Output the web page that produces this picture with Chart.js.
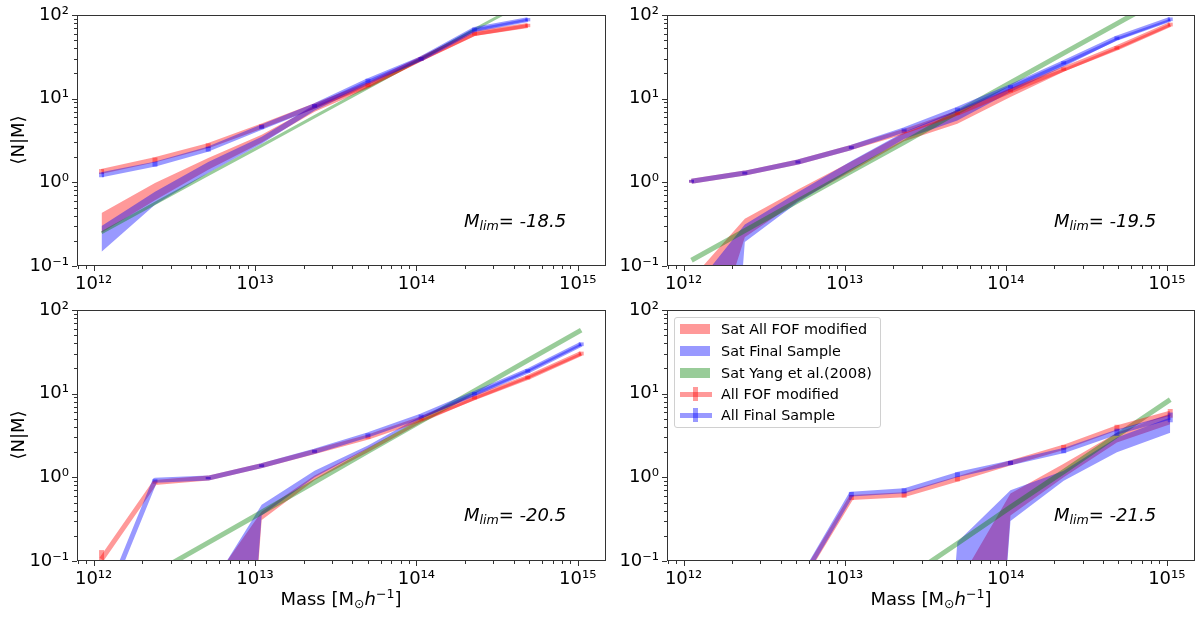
<!DOCTYPE html>
<html>
<head>
<meta charset="utf-8">
<script src="https://cdn.jsdelivr.net/npm/chart.js@4.4.1/dist/chart.umd.min.js"></script>
<style>
  body { margin: 0; background: #fff; font-family: "DejaVu Sans", sans-serif; }
  #fig { position: relative; width: 1200px; height: 617px; overflow: hidden; }
  canvas { position: absolute; }
  .ylab { position: absolute; font-size: 18px; white-space: nowrap; transform: translate(-50%, -50%) rotate(-90deg); }
  .xlab { position: absolute; font-size: 18px; white-space: nowrap; transform: translate(-50%, -50%); }
  .xlab sub { font-size: 70%; vertical-align: -0.25em; line-height: 0; }
  .xlab sup { font-size: 70%; vertical-align: 0.55em; line-height: 0; }
  .mlim { position: absolute; font-size: 18px; font-style: italic; white-space: nowrap; transform: translateY(-50%); }
  .mlim sub { font-size: 70%; vertical-align: -0.3em; line-height: 0; }
  #legend { position: absolute; left: 674px; top: 317px; width: 207px; height: 111px; box-sizing: border-box;
            border: 1px solid #d0d0d0; border-radius: 3px; background: rgba(255,255,255,0.8); font-size: 14.4px; }
  .row { position: absolute; left: 0; height: 20px; width: 100%; }
  .row span { position: absolute; left: 46px; top: 50%; transform: translateY(-50%); white-space: nowrap; }
  .patch { position: absolute; left: 5px; width: 30px; height: 10px; top: 5px; }
  .ln { position: absolute; left: 5px; width: 32px; height: 5px; top: 7.5px; }
  .eb { position: absolute; left: 18px; width: 5px; height: 14px; top: 3px; }
</style>
</head>
<body>
<div id="fig">
  <canvas id="c0" width="615" height="300" style="left:0px;top:0px"></canvas>
  <canvas id="c1" width="594" height="300" style="left:606px;top:0px"></canvas>
  <canvas id="c2" width="615" height="321" style="left:0px;top:296px"></canvas>
  <canvas id="c3" width="594" height="321" style="left:606px;top:296px"></canvas>

  <div class="ylab" style="left:17px;top:140px">⟨N|M⟩</div>
  <div class="ylab" style="left:17px;top:435px">⟨N|M⟩</div>
  <div class="xlab" style="left:341px;top:598px">Mass [M<sub>⊙</sub><i>h</i><sup>−1</sup>]</div>
  <div class="xlab" style="left:931px;top:598px">Mass [M<sub>⊙</sub><i>h</i><sup>−1</sup>]</div>

  <div class="mlim" style="left:464px;top:220px">M<sub>lim</sub>= -18.5</div>
  <div class="mlim" style="left:1054px;top:220px">M<sub>lim</sub>= -19.5</div>
  <div class="mlim" style="left:464px;top:514px">M<sub>lim</sub>= -20.5</div>
  <div class="mlim" style="left:1054px;top:514px">M<sub>lim</sub>= -21.5</div>

  <div id="legend">
    <div class="row" style="top:1px"><div class="patch" style="background:rgba(255,0,0,0.4)"></div><span>Sat All FOF modified</span></div>
    <div class="row" style="top:23px"><div class="patch" style="background:rgba(0,0,255,0.4)"></div><span>Sat Final Sample</span></div>
    <div class="row" style="top:45px"><div class="patch" style="background:rgba(0,128,0,0.4)"></div><span>Sat Yang et al.(2008)</span></div>
    <div class="row" style="top:66px"><div class="ln" style="background:rgba(255,0,0,0.4)"></div><div class="eb" style="background:rgba(255,0,0,0.4)"></div><span>All FOF modified</span></div>
    <div class="row" style="top:87px"><div class="ln" style="background:rgba(0,0,255,0.4)"></div><div class="eb" style="background:rgba(0,0,255,0.4)"></div><span>All Final Sample</span></div>
  </div>
</div>

<script>
// halo mass bins (shared by all panels)
const massBins = [1.12e12, 2.40e12, 5.13e12, 1.10e13, 2.34e13, 5.01e13, 1.07e14, 2.29e14, 4.90e14, 1.05e15];
const xRange = [7.89e11, 1.496e15];
const yRange = [0.1, 100];
const xLabelTicks = [1e12, 1e13, 1e14, 1e15];
const yLabelTicks = [0.1, 1, 10, 100];

// M_lim = -18.5
const tlSatFofLo   = [0.25, 0.61, 1.41, 3.0, 7.0, 13.2, 28, 56, 71];
const tlSatFofHi   = [0.43, 0.98, 1.95, 3.7, 8.2, 15.1, 31, 62, 78];
const tlSatFinalLo = [0.148, 0.54, 1.29, 2.9, 7.2, 14.6, 28.5, 64, 85];
const tlSatFinalHi = [0.30, 0.77, 1.75, 3.5, 8.5, 16.7, 31.5, 69, 91];
const tlYang       = [0.25, 0.56, 1.24, 2.75, 6.1, 13.5, 30, 67, 148, 330];
const tlAllFof     = [1.35, 1.86, 2.75, 4.7, 8.2, 14.6, 30, 60, 75];
const tlAllFinal   = [1.23, 1.65, 2.5, 4.57, 8.2, 16.4, 30, 67, 88];
const tlErrFof     = [0.09, 0.12, 0.18, 0.25, 0.4, 0.8, 1.5, 3, 3.5];
const tlErrFinal   = [0.08, 0.11, 0.17, 0.25, 0.4, 0.9, 1.5, 3.5, 4];

// M_lim = -19.5
const trSatFofLo   = [0.0022, 0.22, 0.6, 1.35, 3.1, 5.0, 10.5, 21, 38.5, 73];
const trSatFofHi   = [0.07, 0.367, 0.82, 1.78, 3.9, 6.8, 13.2, 23, 41.5, 79];
const trSatFinalLo = [1e-9, 0.193, 0.58, 1.4, 3.3, 5.5, 12, 24, 50, 85];
const trSatFinalHi = [0.05, 0.314, 0.76, 1.8, 4.0, 7.3, 14.4, 27.5, 54, 90];
const trYang       = [0.117, 0.265, 0.60, 1.35, 3.0, 6.9, 15.5, 35, 79, 178];
const trAllFof     = [1.03, 1.29, 1.75, 2.61, 4.05, 6.7, 12.4, 22.6, 40.5, 77];
const trAllFinal   = [1.03, 1.29, 1.75, 2.61, 4.24, 7.46, 13.9, 26.9, 53, 89];
const trErrFof     = [0.04, 0.05, 0.07, 0.1, 0.16, 0.3, 0.5, 1, 2, 4];
const trErrFinal   = [0.04, 0.05, 0.07, 0.1, 0.17, 0.35, 0.6, 1.2, 2.5, 4.5];

// M_lim = -20.5
const blSatFofLo   = [1e-9, 1e-9, 1e-9, 0.31, 0.92, 2.0, 4.5, 8.4, 15, 28.5];
const blSatFofHi   = [1e-9, 1e-9, 0.048, 0.39, 1.05, 2.25, 4.9, 9.2, 16.2, 31];
const blSatFinalLo = [1e-9, 1e-9, 1e-9, 0.35, 1.0, 2.2, 5.0, 9.5, 18, 37.5];
const blSatFinalHi = [1e-9, 1e-9, 0.044, 0.47, 1.2, 2.4, 5.4, 10.3, 19.3, 40];
const blYang       = [0.031, 0.072, 0.166, 0.383, 0.88, 2.04, 4.7, 10.8, 25, 57.5];
const blAllFof     = [0.105, 0.87, 0.98, 1.38, 2.03, 3.02, 5.0, 8.95, 15.6, 30.2];
const blAllFinal   = [0.025, 0.92, 0.98, 1.38, 2.05, 3.22, 5.4, 10, 18.7, 39];
const blErrFof     = [0.03, 0.03, 0.03, 0.05, 0.08, 0.13, 0.2, 0.4, 0.8, 1.6];
const blErrFinal   = [0.004, 0.03, 0.03, 0.05, 0.08, 0.14, 0.22, 0.45, 0.9, 2];

// M_lim = -21.5
const brSatFofLo   = [1e-9, 1e-9, 1e-9, 1e-9, 1e-9, 1e-9, 0.35, 1.0, 2.6, 4.3];
const brSatFofHi   = [1e-9, 1e-9, 1e-9, 1e-9, 1e-9, 0.052, 0.64, 1.45, 3.4, 5.8];
const brSatFinalLo = [1e-9, 1e-9, 1e-9, 1e-9, 1e-9, 1e-9, 0.3, 0.91, 2.0, 3.4];
const brSatFinalHi = [1e-9, 1e-9, 1e-9, 1e-9, 1e-9, 0.169, 0.70, 1.2, 3.0, 5.2];
const brYang       = [0.0012, 0.0031, 0.0083, 0.022, 0.06, 0.162, 0.44, 1.17, 3.16, 8.5];
const brAllFof     = [null, null, 0.051, 0.575, 0.62, 0.955, 1.49, 2.29, 3.9, 5.86];
const brAllFinal   = [null, null, 0.051, 0.63, 0.69, 1.08, 1.49, 2.09, 3.47, 5.25];
const brErrFof     = [null, null, 0.004, 0.04, 0.05, 0.06, 0.08, 0.15, 0.35, 0.7];
const brErrFinal   = [null, null, 0.004, 0.04, 0.05, 0.07, 0.08, 0.15, 0.35, 0.7];

const RED = 'rgba(255,0,0,0.4)';
const BLUE = 'rgba(0,0,255,0.4)';
const GREEN = 'rgba(0,128,0,0.4)';
const SUP = {'0':'⁰','1':'¹','2':'²','3':'³','4':'⁴','5':'⁵','6':'⁶','7':'⁷','8':'⁸','9':'⁹','-':'⁻'};

function pow10Label(v, list) {
    const hit = list.find(t => Math.abs(Math.log10(v) - Math.log10(t)) < 1e-6);
    if (!hit) return '';
    const e = Math.round(Math.log10(hit));
    return '10' + String(e).split('').map(c => SUP[c]).join('');
}

// ticks at 1..9 x 10^n, like matplotlib's log locator
function logTicks(min, max) {
    const out = [];
    for (let e = Math.floor(Math.log10(min)); e <= Math.ceil(Math.log10(max)); e++) {
        for (let m = 1; m <= 9; m++) {
            const v = m * Math.pow(10, e);
            if (v >= min * 0.999999 && v <= max * 1.000001) out.push({value: v, major: m === 1});
        }
    }
    return out;
}

const errorBars = {
    id: 'errorBars',
    afterDatasetDraw(chart, args) {
        const ds = chart.data.datasets[args.index];
        if (!ds.errors) return;
        const {ctx, chartArea: a, scales: {x, y}} = chart;
        ctx.save();
        ctx.beginPath();
        ctx.rect(a.left, a.top, a.right - a.left, a.bottom - a.top);
        ctx.clip();
        ctx.strokeStyle = ds.borderColor;
        ctx.lineWidth = ds.borderWidth;
        ctx.lineCap = 'butt';
        ds.data.forEach((p, i) => {
            const e = ds.errors[i];
            if (p.y == null || e == null) return;
            const px = x.getPixelForValue(p.x);
            ctx.beginPath();
            ctx.moveTo(px, y.getPixelForValue(Math.max(p.y - e, 1e-6)));
            ctx.lineTo(px, y.getPixelForValue(p.y + e));
            ctx.stroke();
        });
        ctx.restore();
    }
};

const frame = {
    id: 'frame',
    afterDraw(chart) {
        const {ctx, chartArea: a, scales: {x, y}} = chart;
        ctx.save();
        ctx.strokeStyle = '#333';
        ctx.lineWidth = 1;
        ctx.beginPath();
        x.ticks.forEach(t => {
            const px = Math.round(x.getPixelForValue(t.value)) + 0.5;
            ctx.moveTo(px, a.bottom);
            ctx.lineTo(px, a.bottom + (t.major ? 5 : 3));
        });
        y.ticks.forEach(t => {
            const py = Math.round(y.getPixelForValue(t.value)) + 0.5;
            ctx.moveTo(a.left, py);
            ctx.lineTo(a.left - (t.major ? 5 : 3), py);
        });
        ctx.stroke();
        ctx.strokeRect(a.left + 0.5, a.top + 0.5, a.right - a.left - 1, a.bottom - a.top - 1);
        ctx.restore();
    }
};

function pts(arr) {
    return arr.map((v, i) => ({x: massBins[i], y: v}));
}

function makePanel(id, box, d) {
    const canvas = document.getElementById(id);
    const W = canvas.width, H = canvas.height;
    const tickFont = {family: 'DejaVu Sans', size: 18};
    new Chart(canvas, {
        type: 'line',
        data: {
            datasets: [
                {data: pts(d.satFofHi), fill: '+1', backgroundColor: RED, borderColor: 'transparent', borderWidth: 0, order: 5},
                {data: pts(d.satFofLo), fill: false, borderColor: 'transparent', borderWidth: 0, order: 5},
                {data: pts(d.satFinalHi), fill: '+1', backgroundColor: BLUE, borderColor: 'transparent', borderWidth: 0, order: 4},
                {data: pts(d.satFinalLo), fill: false, borderColor: 'transparent', borderWidth: 0, order: 4},
                {data: pts(d.yang), fill: false, borderColor: GREEN, borderWidth: d.yangWidth, order: 3, clip: 0},
                {data: pts(d.allFof), errors: d.errFof, fill: false, borderColor: RED, borderWidth: 5, order: 2, clip: 0},
                {data: pts(d.allFinal), errors: d.errFinal, fill: false, borderColor: BLUE, borderWidth: 5, order: 1, clip: 0}
            ]
        },
        options: {
            responsive: false,
            animation: false,
            events: [],
            layout: {padding: {top: box.top, right: W - box.right, left: 0, bottom: 0}},
            elements: {
                line: {tension: 0, borderJoinStyle: 'round', borderCapStyle: 'butt'},
                point: {radius: 0}
            },
            plugins: {legend: {display: false}, tooltip: {enabled: false}},
            scales: {
                x: {
                    type: 'logarithmic',
                    min: xRange[0], max: xRange[1],
                    afterFit: s => { s.height = H - box.bottom; },
                    afterBuildTicks: s => { s.ticks = logTicks(s.min, s.max); },
                    grid: {display: false, drawTicks: true, tickLength: 5},
                    border: {display: false},
                    ticks: {autoSkip: false, maxRotation: 0, padding: 3, color: '#000', font: tickFont,
                            callback: v => pow10Label(v, xLabelTicks)}
                },
                y: {
                    type: 'logarithmic',
                    min: yRange[0], max: yRange[1],
                    afterFit: s => { s.width = box.left; },
                    afterBuildTicks: s => { s.ticks = logTicks(s.min, s.max); },
                    grid: {display: false, drawTicks: true, tickLength: 5},
                    border: {display: false},
                    ticks: {autoSkip: false, padding: 3, color: '#000', font: tickFont,
                            callback: v => pow10Label(v, yLabelTicks)}
                }
            }
        },
        plugins: [errorBars, frame]
    });
}

// chart-area edges in canvas pixels
makePanel('c0', {left: 77, top: 15, right: 606, bottom: 266}, {
    satFofLo: tlSatFofLo, satFofHi: tlSatFofHi, satFinalLo: tlSatFinalLo, satFinalHi: tlSatFinalHi,
    yang: tlYang, yangWidth: 3, allFof: tlAllFof, allFinal: tlAllFinal, errFof: tlErrFof, errFinal: tlErrFinal
});
makePanel('c1', {left: 61, top: 15, right: 589, bottom: 266}, {
    satFofLo: trSatFofLo, satFofHi: trSatFofHi, satFinalLo: trSatFinalLo, satFinalHi: trSatFinalHi,
    yang: trYang, yangWidth: 5, allFof: trAllFof, allFinal: trAllFinal, errFof: trErrFof, errFinal: trErrFinal
});
makePanel('c2', {left: 77, top: 14, right: 606, bottom: 265}, {
    satFofLo: blSatFofLo, satFofHi: blSatFofHi, satFinalLo: blSatFinalLo, satFinalHi: blSatFinalHi,
    yang: blYang, yangWidth: 5, allFof: blAllFof, allFinal: blAllFinal, errFof: blErrFof, errFinal: blErrFinal
});
makePanel('c3', {left: 61, top: 14, right: 589, bottom: 265}, {
    satFofLo: brSatFofLo, satFofHi: brSatFofHi, satFinalLo: brSatFinalLo, satFinalHi: brSatFinalHi,
    yang: brYang, yangWidth: 5, allFof: brAllFof, allFinal: brAllFinal, errFof: brErrFof, errFinal: brErrFinal
});
</script>
</body>
</html>
